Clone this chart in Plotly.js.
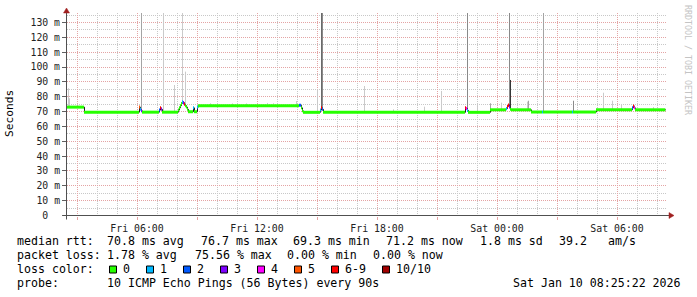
<!DOCTYPE html>
<html><head><meta charset="utf-8">
<script src="https://cdn.plot.ly/plotly-3.0.1.min.js"></script>
<style>html,body{margin:0;padding:0;background:#fff;}#chart{width:697px;height:297px;}</style>
</head><body><div id="chart"></div>
<script>
// ---------------- data ----------------
// median rtt steps (start time of each step, value in ms, lost pings of 10)
const medTimes = ['2026-01-09 02:24','2026-01-09 03:21','2026-01-09 06:06','2026-01-09 06:09','2026-01-09 06:12','2026-01-09 06:15',
 '2026-01-09 07:06','2026-01-09 07:09','2026-01-09 07:12','2026-01-09 07:15','2026-01-09 08:03','2026-01-09 08:06','2026-01-09 08:09',
 '2026-01-09 08:12','2026-01-09 08:15','2026-01-09 08:18','2026-01-09 08:21','2026-01-09 08:24','2026-01-09 08:27','2026-01-09 08:30',
 '2026-01-09 08:33','2026-01-09 08:48','2026-01-09 08:51','2026-01-09 09:00','2026-01-09 09:03','2026-01-09 14:06','2026-01-09 14:12',
 '2026-01-09 14:15','2026-01-09 14:18','2026-01-09 15:09','2026-01-09 15:12','2026-01-09 15:15','2026-01-09 15:18','2026-01-09 22:24',
 '2026-01-09 22:27','2026-01-09 22:30','2026-01-09 22:33','2026-01-09 23:39','2026-01-10 00:27','2026-01-10 00:30','2026-01-10 00:33',
 '2026-01-10 00:36','2026-01-10 00:39','2026-01-10 00:42','2026-01-10 01:42','2026-01-10 02:15','2026-01-10 02:18','2026-01-10 03:45',
 '2026-01-10 03:48','2026-01-10 04:57','2026-01-10 06:45','2026-01-10 06:48','2026-01-10 06:51','2026-01-10 06:54','2026-01-10 08:25'];
const medValues = [73.0,69.6,73.0,71.5,70.5,69.6,
 71.0,72.5,71.5,69.6,71.0,72.5,74.0,
 75.5,76.7,76.0,75.0,74.0,73.0,71.5,
 69.9,72.5,69.9,73.0,74.0,74.2,72.5,
 70.5,69.5,71.0,72.5,71.5,69.5,72.5,
 72.0,70.8,69.5,71.2,72.0,73.5,74.5,
 73.0,71.5,71.2,69.7,69.7,69.7,69.7,
 69.7,71.2,72.5,73.8,72.5,71.2,71.2];
const lostPings = [0,0,5,1,3,0,
 2,7,3,0,0,0,0,
 0,1,3,7,0,0,0,
 0,1,0,1,0,2,0,
 0,0,1,7,2,0,7,
 4,1,0,0,1,7,7,
 3,0,0,0,1,0,1,
 0,0,2,7,4,0,0];

// smoke (ping spread above the median): time, highest ping (ms), smoke density
const smokeTimes = ['2026-01-09 02:33','2026-01-09 02:36','2026-01-09 06:12','2026-01-09 07:18','2026-01-09 07:51','2026-01-09 08:15',
 '2026-01-09 08:24','2026-01-09 09:39','2026-01-09 10:45','2026-01-09 11:27','2026-01-09 12:30','2026-01-09 12:48','2026-01-09 13:57',
 '2026-01-09 15:00','2026-01-09 15:12','2026-01-09 15:15','2026-01-09 17:21','2026-01-09 18:48','2026-01-09 20:21','2026-01-09 21:12',
 '2026-01-09 22:30','2026-01-09 23:00','2026-01-09 23:39','2026-01-10 00:12','2026-01-10 00:36','2026-01-10 00:39','2026-01-10 01:30',
 '2026-01-10 01:33','2026-01-10 02:18','2026-01-10 03:48','2026-01-10 05:18','2026-01-10 05:45','2026-01-10 06:12','2026-01-10 07:48'];
const smokeTops = [85.7,79.0,150,150,87.9,150,96.9,75.6,75.5,75.5,75.8,75.6,77.1,85.0,150,150,87.2,71.5,73.3,83.9,
 150,74.4,75.6,76.0,150,91.3,76.7,77.3,150,77.3,82.7,77.3,75.1,73.0];
const smokeDensity = [1,1,2,1,1,1,1,1,1,1,1,1,1,1,4,3,1,1,1,1,3,1,2,1,3,5,1,2,2,3,1,1,1,1];

const xRange = ['2026-01-09 02:30','2026-01-10 08:30'];
const xGridTimes = ['2026-01-09 03:00','2026-01-09 06:00','2026-01-09 09:00','2026-01-09 12:00','2026-01-09 15:00',
 '2026-01-09 18:00','2026-01-09 21:00','2026-01-10 00:00','2026-01-10 03:00','2026-01-10 06:00'];
const xTickTimes = ['2026-01-09 06:00','2026-01-09 12:00','2026-01-09 18:00','2026-01-10 00:00','2026-01-10 06:00'];
const xTickLabels = ['Fri 06:00','Fri 12:00','Fri 18:00','Sat 00:00','Sat 06:00'];
const yTickValues = [0,10,20,30,40,50,60,70,80,90,100,110,120,130];
const yTickLabels = ['0\u00a0\u00a0','10 m','20 m','30 m','40 m','50 m','60 m','70 m','80 m','90 m','100 m','110 m','120 m','130 m'];

const lossLabels = ['0','1','2','3','4','5','6-9','10/10'];
const lossColors = ['#26ff00','#00b8ff','#0059ff','#7e00ff','#ff00ff','#ff5500','#ff0000','#a10000'];
const rttStatNames = ['avg','max','min','now'];
const rttStatValues = [70.8,76.7,69.3,71.2];
const rttSd = 1.8;
const rttAms = 39.2;
const lossStatValues = [1.78,75.56,0.00,0.00];
const probeText = '10 ICMP Echo Pings (56 Bytes) every 90s';
const stampText = 'Sat Jan 10 08:25:22 2026';

// ---------------- helpers ----------------
function toMs(s){const [d,t]=s.split(' ');const [Y,M,D]=d.split('-').map(Number);const p=t.split(':').map(Number);
  return Date.UTC(Y,M-1,D,p[0],p[1],p[2]||0);}
function toStr(ms){const d=new Date(ms);const q=n=>String(n).padStart(2,'0');
  return d.getUTCFullYear()+'-'+q(d.getUTCMonth()+1)+'-'+q(d.getUTCDate())+' '+q(d.getUTCHours())+':'+q(d.getUTCMinutes())+':'+q(d.getUTCSeconds());}
const HALF = 90*1000; // half a sample column
function medianAt(s){const m=toMs(s);let v=medValues[0];for(let i=0;i<medTimes.length;i++){if(toMs(medTimes[i])<=m)v=medValues[i];}return v;}
function lossIdx(n){return n>=10?7:(n>=6?6:n);}

const densityColors = {1:'#cacaca',2:'#a4a4a4',3:'#8a8a8a',4:'#6a6a6a',5:'#363636'};

const traces = [];
// smoke
Object.keys(densityColors).forEach(k=>{
  const xs=[],ys=[];
  smokeTimes.forEach((t,i)=>{ if(smokeDensity[i]==k){const c=toStr(toMs(t)+HALF);xs.push(c,c,null);ys.push(medianAt(t),smokeTops[i],null);} });
  if(xs.length) traces.push({type:'scatter',mode:'lines',x:xs,y:ys,line:{color:densityColors[k],width:1},hoverinfo:'skip',showlegend:false});
});
// median thin dark line
traces.push({type:'scatter',mode:'lines',x:medTimes.map(t=>toStr(toMs(t)+HALF)),y:medValues,line:{color:'#202020',width:1,shape:'hv'},hoverinfo:'skip',showlegend:false});
// loss coloured band
lossColors.forEach((col,ci)=>{
  const xs=[],ys=[];
  for(let i=0;i<medTimes.length-1;i++){ if(lossIdx(lostPings[i])===ci){xs.push(medTimes[i],medTimes[i+1],null);ys.push(medValues[i],medValues[i],null);} }
  if(xs.length) traces.push({type:'scatter',mode:'lines',x:xs,y:ys,line:{color:col,width:3},hoverinfo:'skip',showlegend:false});
});

// ---------------- layout ----------------
const PL=67,PT=13,PW=600,PH=203;
const px=x=>(x-PL)/PW, py=y=>(PT+PH-y)/PH;
const MONO='DejaVu Sans Mono';
const ann=[];
function txt(x,y,s,opt){ann.push(Object.assign({xref:'paper',yref:'paper',x:px(x),y:py(y),text:s,showarrow:false,xanchor:'left',yanchor:'middle',
  borderpad:0,borderwidth:0,font:{family:MONO,size:11.6,color:'#000'}},opt||{}));}
const shapes=[];

const L1=241.3,L2=255.3,L3=269.3,L4=283.3;
txt(16.7,L1,'median rtt:');
const rttX=[107.3,200.7,293.3,385.8];
rttStatValues.forEach((v,i)=>txt(rttX[i],L1,v.toFixed(1)+' ms '+rttStatNames[i]));
txt(479.7,L1,rttSd.toFixed(1)+' ms sd');
txt(558.5,L1,rttAms.toFixed(1));
txt(607.5,L1,'am/s');
txt(16.7,L2,'packet loss:');
const lossX=[107.3,195,286.7,373];
lossStatValues.forEach((v,i)=>txt(lossX[i],L2,v.toFixed(2)+' % '+rttStatNames[i]));
txt(16.7,L3,'loss color:');
const boxX=[109,146,183,220,257,294,331,382];
lossLabels.forEach((lab,i)=>{
  shapes.push({type:'rect',xref:'paper',yref:'paper',x0:px(boxX[i]+0.5),x1:px(boxX[i]+7.5),y0:py(273),y1:py(266),fillcolor:lossColors[i],line:{color:'#000',width:1},layer:'above'});
  txt(boxX[i]+14.3,L3,lab);
});
txt(16.7,L4,'probe:');
txt(107.3,L4,probeText);
txt(681,L4,stampText,{xanchor:'right'});
txt(9.5,113.5,'Seconds',{xanchor:'center',textangle:-90,font:{family:MONO,size:11.2,color:'#000'}});
txt(688,60,'RRDTOOL / TOBI OETIKER',{xanchor:'center',textangle:90,font:{family:MONO,size:8.3,color:'#c4c4c4'}});

const AX='#505050', ARR='#a02020';
shapes.push({type:'line',xref:'paper',yref:'y',x0:px(63),x1:px(669),y0:0,y1:0,line:{color:AX,width:1},layer:'above'});
shapes.push({type:'line',xref:'paper',yref:'paper',x0:px(66.5),x1:px(66.5),y0:py(219.5),y1:py(11),line:{color:AX,width:1},layer:'above'});
shapes.push({type:'path',xref:'paper',yref:'paper',fillcolor:ARR,line:{color:ARR,width:0.5},layer:'above',
  path:'M'+px(669)+','+py(212.5)+' L'+px(674)+','+py(215.5)+' L'+px(669)+','+py(218.5)+' Z'});
shapes.push({type:'path',xref:'paper',yref:'paper',fillcolor:ARR,line:{color:ARR,width:0.5},layer:'above',
  path:'M'+px(63.5)+','+py(13)+' L'+px(66.5)+','+py(8)+' L'+px(69.5)+','+py(13)+' Z'});

const RED='#e4a4a4', GREY='#c8c8c8', DASH='1px,1px';
const layout={
  width:697,height:297,margin:{l:PL,r:30,t:PT,b:81,pad:0},
  paper_bgcolor:'#fff',plot_bgcolor:'#fff',showlegend:false,hovermode:false,
  xaxis:{type:'date',range:xRange,tickmode:'array',tickvals:xGridTimes,
    ticktext:xGridTimes.map(t=>{const k=xTickTimes.indexOf(t);return k>=0?xTickLabels[k]:'';}),
    showgrid:true,gridcolor:RED,griddash:DASH,gridwidth:1,zeroline:false,showline:false,
    ticks:'outside',ticklen:3,tickcolor:RED,tickfont:{family:MONO,size:9.9,color:'#222'},automargin:false,
    minor:{tickmode:'linear',tick0:'2026-01-09 00:00',dtick:3600000,showgrid:true,gridcolor:GREY,griddash:DASH,gridwidth:1,ticks:''}},
  yaxis:{range:[-0.337,136.4],tickmode:'array',tickvals:yTickValues,ticktext:yTickLabels,
    showgrid:true,gridcolor:RED,griddash:DASH,gridwidth:1,zeroline:false,showline:false,
    ticks:'outside',ticklen:4,tickcolor:'#606060',tickfont:{family:MONO,size:9.8,color:'#222'},automargin:false,
    minor:{tickmode:'linear',tick0:0,dtick:5,showgrid:true,gridcolor:GREY,griddash:DASH,gridwidth:1,ticks:''}},
  annotations:ann,shapes:shapes
};
Plotly.newPlot('chart',traces,layout,{staticPlot:true,displayModeBar:false});
</script></body></html>
